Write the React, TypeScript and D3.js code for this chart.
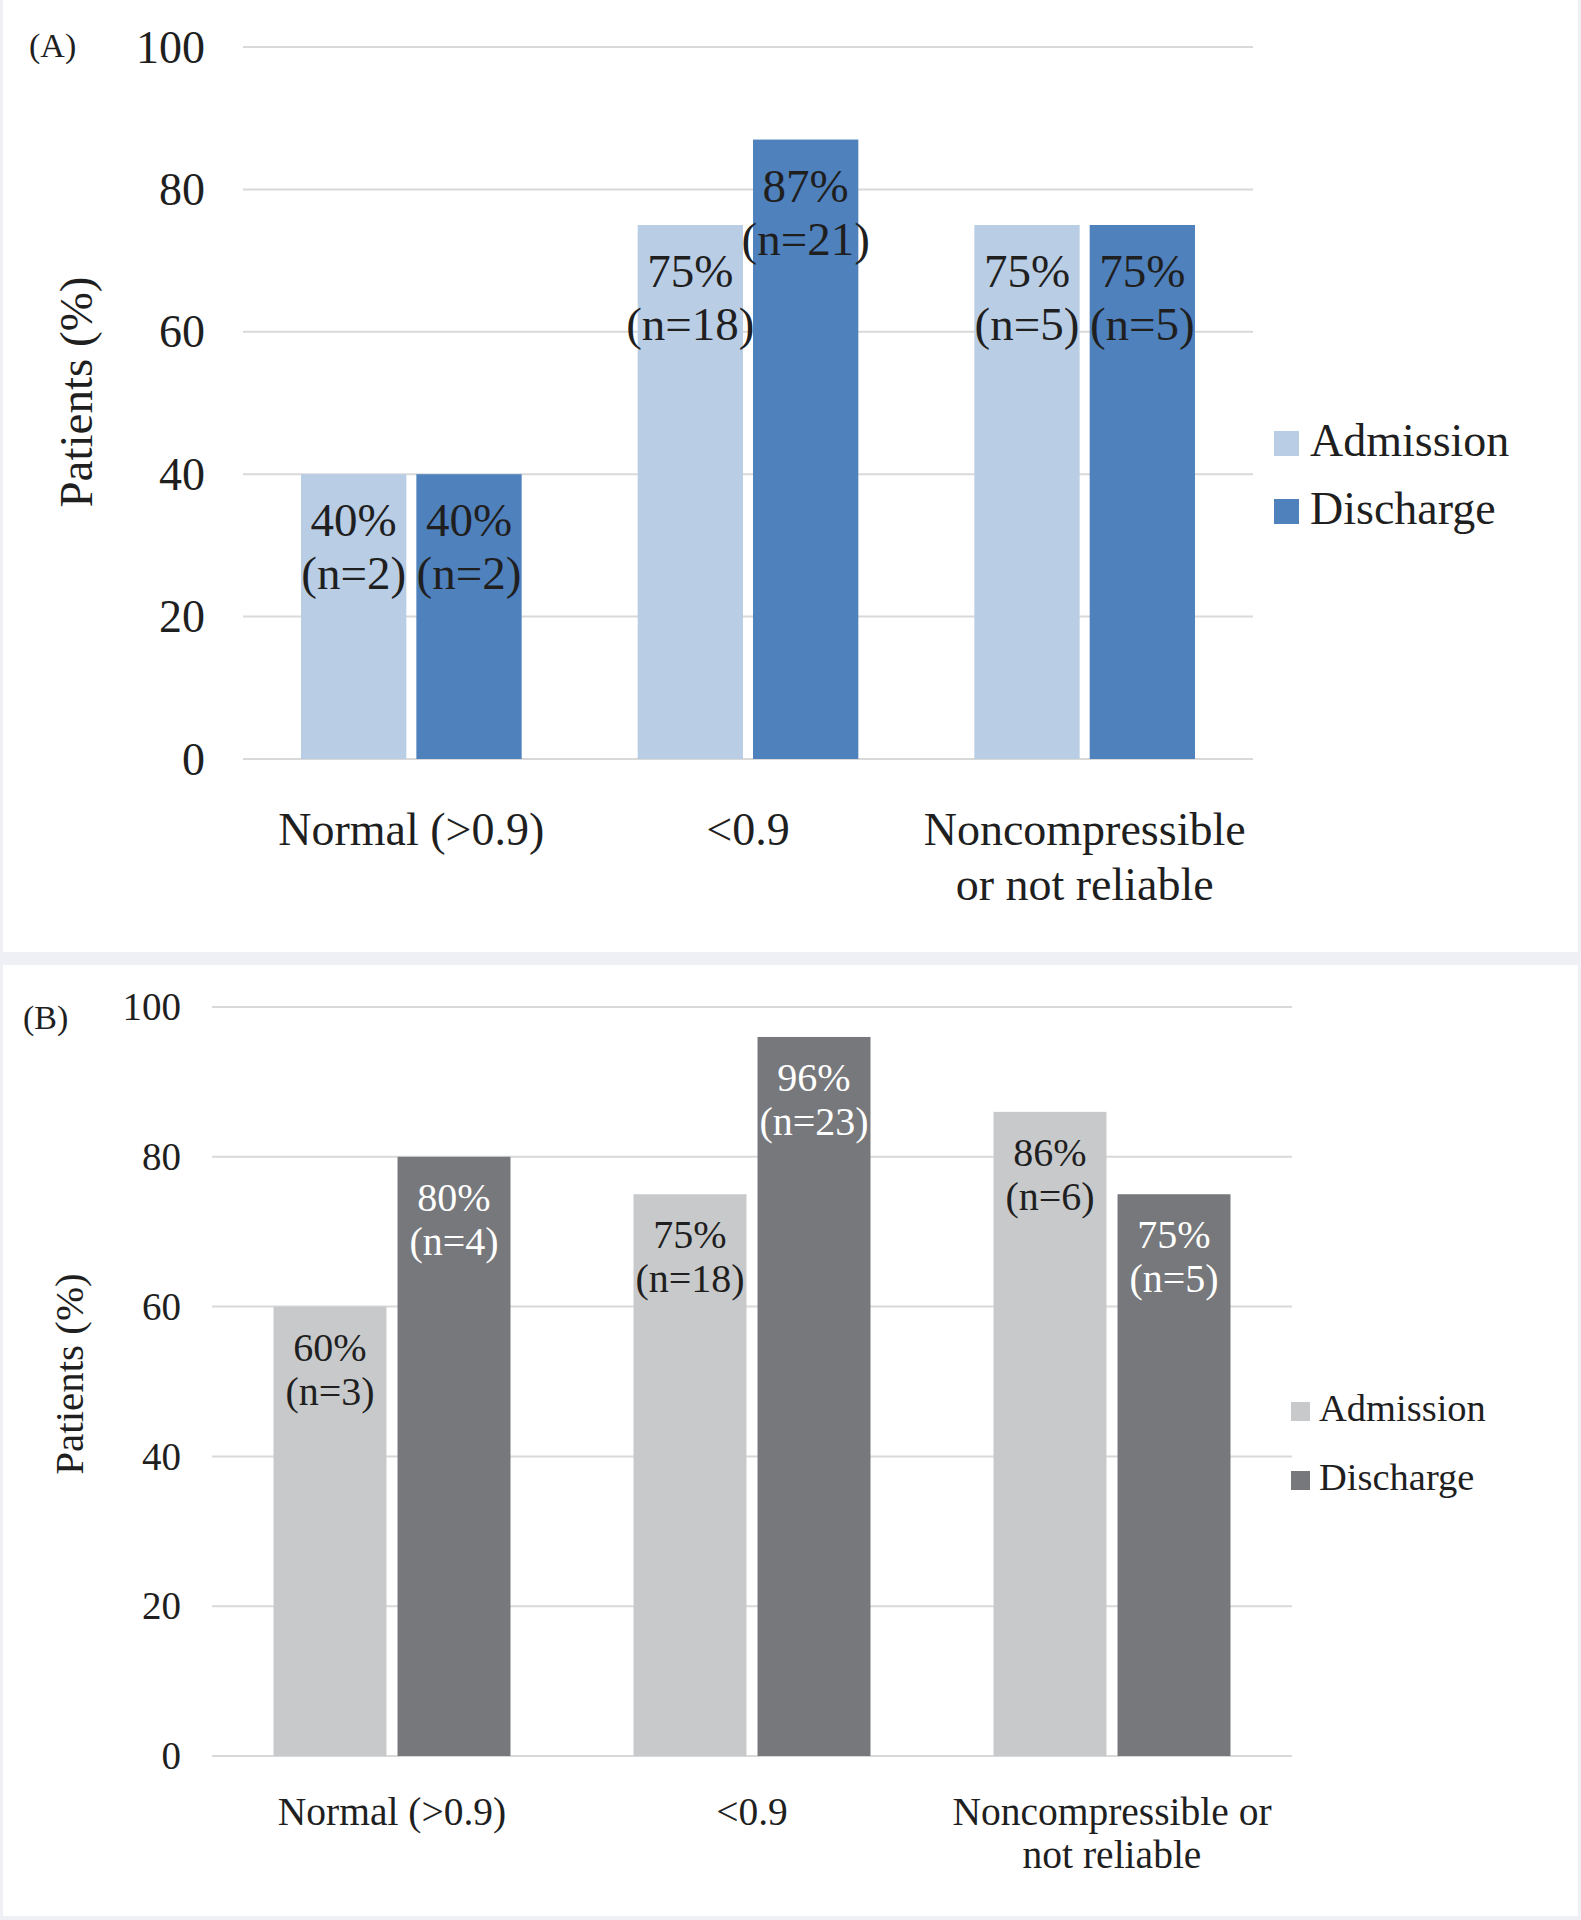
import React from "react";
import * as d3 from "d3";

const categories = ["Normal (>0.9)", "<0.9", "Noncompressible or not reliable"];
const categoryLinesA = [["Normal (>0.9)"], ["<0.9"], ["Noncompressible", "or not reliable"]];
const categoryLinesB = [["Normal (>0.9)"], ["<0.9"], ["Noncompressible or", "not reliable"]];
const series = ["Admission", "Discharge"];
const yTicks = [0, 20, 40, 60, 80, 100];

const admissionA = [40, 75, 75];
const admissionNA = [2, 18, 5];
const dischargeA = [40, 87, 75];
const dischargeNA = [2, 21, 5];

const admissionB = [60, 75, 86];
const admissionNB = [3, 18, 6];
const dischargeB = [80, 96, 75];
const dischargeNB = [4, 23, 5];

const FONT = "'Liberation Serif', 'DejaVu Serif', serif";
const TEXT = "#1f1f1f";

type PanelProps = {
  tag: string;
  values: number[][];
  counts: number[][];
  lines: string[][];
  colors: string[];
  labelColors: string[];
  x0: number; x1: number; yBase: number; yTop: number;
  groupPad: number; innerPad: number;
  tickX: number; tickFont: number;
  tagX: number; tagY: number; tagFont: number;
  titleX: number; titleY: number; titleFont: number;
  valFont: number; valOff1: number; valOff2: number;
  catFont: number; catY1: number; catY2: number;
  legX: number; legSq: number; legTextX: number; legY: number[]; legFont: number;
};

function Panel(p: PanelProps) {
  const x = d3.scaleBand<string>().domain(categories).range([p.x0, p.x1]).padding(0);
  const xi = d3.scaleBand<string>().domain(series)
    .range([p.groupPad, x.bandwidth() - p.groupPad]).paddingInner(p.innerPad).paddingOuter(0);
  const y = d3.scaleLinear().domain([0, 100]).range([p.yBase, p.yTop]);
  return (
    <g>
      {yTicks.map((t) => (
        <g key={t}>
          <line x1={p.x0} x2={p.x1} y1={y(t)} y2={y(t)} stroke="#d9d9d9" strokeWidth={2} />
          <text x={p.tickX} y={y(t)} dy="0.34em" textAnchor="end" fontSize={p.tickFont} fill={TEXT}>{t}</text>
        </g>
      ))}
      <text x={p.tagX} y={p.tagY} fontSize={p.tagFont} fill={TEXT}>{p.tag}</text>
      <text transform={`translate(${p.titleX},${p.titleY}) rotate(-90)`} textAnchor="middle" fontSize={p.titleFont} fill={TEXT}>Patients (%)</text>
      {categories.map((c, ci) => (
        <g key={c}>
          {series.map((s, si) => {
            const v = p.values[si][ci];
            const bx = (x(c) as number) + (xi(s) as number);
            const bw = xi.bandwidth();
            const top = y(v);
            return (
              <g key={s}>
                <rect x={bx} y={top} width={bw} height={y(0) - top} fill={p.colors[si]} />
                <text x={bx + bw / 2} y={top + p.valOff1} textAnchor="middle" fontSize={p.valFont} fill={p.labelColors[si]}>{`${v}%`}</text>
                <text x={bx + bw / 2} y={top + p.valOff2} textAnchor="middle" fontSize={p.valFont} fill={p.labelColors[si]}>{`(n=${p.counts[si][ci]})`}</text>
              </g>
            );
          })}
          {p.lines[ci].map((ln, li) => (
            <text key={li} x={(x(c) as number) + x.bandwidth() / 2} y={li === 0 ? p.catY1 : p.catY2} textAnchor="middle" fontSize={p.catFont} fill={TEXT}>{ln}</text>
          ))}
        </g>
      ))}
      {series.map((s, si) => (
        <g key={s}>
          <rect x={p.legX} y={p.legY[si] - p.legSq} width={p.legSq} height={p.legSq} fill={p.colors[si]} />
          <text x={p.legTextX} y={p.legY[si]} fontSize={p.legFont} fill={TEXT}>{s}</text>
        </g>
      ))}
    </g>
  );
}

export default function App() {
  return (
    <svg width={1581} height={1920} style={{ position: "absolute", left: 0, top: 0, fontFamily: FONT }}>
      <rect x={0} y={0} width={1581} height={1920} fill="#eef0f5" />
      <rect x={3} y={0} width={1575} height={952} fill="#ffffff" />
      <rect x={3} y={965} width={1575} height={951} fill="#ffffff" />
      <Panel
        tag="(A)"
        values={[admissionA, dischargeA]}
        counts={[admissionNA, dischargeNA]}
        lines={categoryLinesA}
        colors={["#b9cde5", "#4f81bd"]}
        labelColors={[TEXT, TEXT]}
        x0={243} x1={1253} yBase={759} yTop={47}
        groupPad={58} innerPad={0.087}
        tickX={205} tickFont={46}
        tagX={29} tagY={57} tagFont={34}
        titleX={92} titleY={392} titleFont={47}
        valFont={47} valOff1={62} valOff2={115}
        catFont={46} catY1={845} catY2={900}
        legX={1274} legSq={25} legTextX={1310} legY={[456, 524]} legFont={46}
      />
      <Panel
        tag="(B)"
        values={[admissionB, dischargeB]}
        counts={[admissionNB, dischargeNB]}
        lines={categoryLinesB}
        colors={["#c8c9cb", "#76787c"]}
        labelColors={[TEXT, "#ffffff"]}
        x0={212} x1={1292} yBase={1756} yTop={1007}
        groupPad={61.5} innerPad={0.089}
        tickX={181} tickFont={39}
        tagX={23} tagY={1029} tagFont={34}
        titleX={83} titleY={1374} titleFont={41}
        valFont={40} valOff1={54} valOff2={98}
        catFont={39.5} catY1={1825} catY2={1868}
        legX={1291} legSq={19} legTextX={1319} legY={[1421, 1490]} legFont={38.5}
      />
    </svg>
  );
}
